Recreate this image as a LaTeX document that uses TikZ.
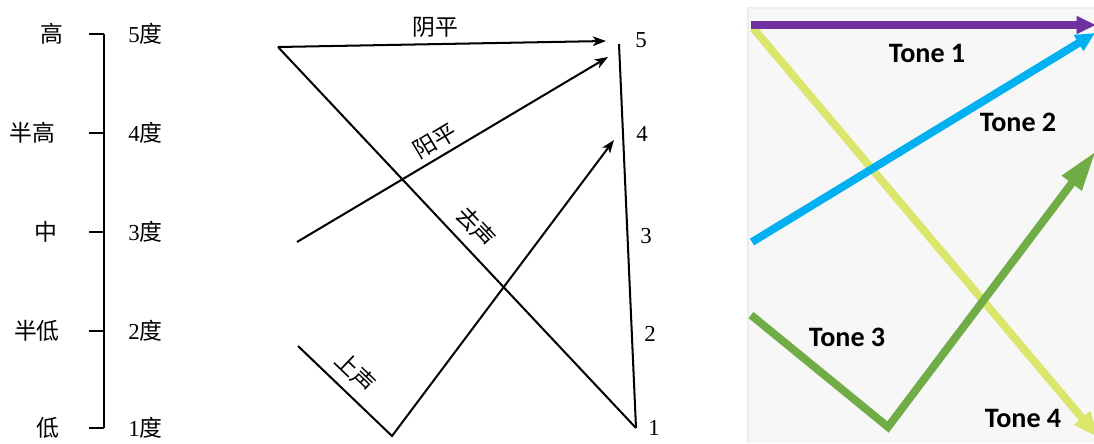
\documentclass[tikz,border=0pt]{standalone}
\usepackage{fontspec}
\setmainfont{Liberation Serif}
\newfontfamily\cjk{Noto Sans CJK SC}
\newfontfamily\tonefont{Carlito}
\usetikzlibrary{arrows.meta}

\definecolor{viola}{HTML}{7030A0}
\definecolor{azzurro}{HTML}{00B0F0}
\definecolor{verde}{HTML}{70AD47}
\definecolor{giallo}{HTML}{DAE76C}
\definecolor{sfondo}{HTML}{F7F7F7}

\begin{document}
\begin{tikzpicture}[x=0.02cm,y=-0.02cm,
    etichetta/.style={font=\cjk\fontsize{13}{13}\selectfont, inner sep=1pt},
    numero/.style={font=\fontsize{13}{13}\selectfont, inner sep=0pt},
    linea/.style={line width=1.15pt},
    freccia/.style={linea, -{Stealth[length=7.5pt,width=5.5pt,inset=2pt]}},
    tono/.style={line width=4.5pt},
    nome/.style={font=\tonefont\bfseries\fontsize{16}{16}\selectfont, inner sep=0pt}]
    \useasboundingbox (0,0) rectangle (1094,443);

    % Scala dei cinque gradi
    \coordinate (s5) at (104,34);
    \coordinate (s1) at (104,428);
    \draw[linea] (s5) -- (s1);
    \foreach \y/\n/\lab/\xl in {34/5/高/52, 133/4/半高/32, 232/3/中/46, 331/2/半低/37, 428/1/低/48} {
        \coordinate (t\n) at (89,\y);
        \coordinate (v\n) at (104,\y);
        \draw[linea] (t\n) -- (v\n);
        \node[etichetta] (l\n) at (\xl,\y) {\lab};
        \node[numero, anchor=west] (g\n) at (128,\y) {\n{\cjk 度}};
    }

    % Toni del cinese
    \coordinate (a0) at (278,47);
    \coordinate (a1) at (606,41);
    \coordinate (b0) at (297,242);
    \coordinate (b1) at (608,57);
    \coordinate (c0) at (298,346);
    \coordinate (c1) at (392,436);
    \coordinate (c2) at (614,140);
    \coordinate (top) at (619,44);
    \coordinate (bot) at (636,428);
    \draw[freccia] (a0) -- node[pos=0.48, above=2pt, etichetta] {阴平} (a1);
    \draw[freccia] (b0) -- node[pos=0.47, sloped, above=2pt, etichetta] {阳平} (b1);
    \draw[linea] (a0) -- node[pos=0.51, sloped, above=4.5pt, etichetta] {去声} (bot);
    \draw[freccia] (c0) -- node[pos=0.46, sloped, above=4.5pt, etichetta] {上声} (c1) -- (c2);
    \draw[linea] (top) -- (bot);
    \foreach \x/\y/\n in {641/40/5, 642/134/4, 646/236/3, 650/334/2, 654/428/1}
        \node[numero] (m\n) at (\x,\y) {\n};

    % Pannello a colori
    \fill[sfondo] (748,8) rectangle (1094,443);
    \draw[black!7, line width=0.6pt] (748,443) -- (748,8) -- (1094,8);
    \begin{scope}
        \clip (748,8) rectangle (1094,443);
        \coordinate (p0) at (751,25);
        \coordinate (p1) at (1096,25);
        \coordinate (y0) at (753,28);
        \coordinate (y1) at (1099,438);
        \coordinate (z0) at (752,242);
        \coordinate (z1) at (1095,33);
        \coordinate (q0) at (751,315);
        \coordinate (q1) at (888,427);
        \coordinate (q2) at (1096,151);
        \draw[tono, giallo, -{Triangle[length=15pt,width=11pt]}] (y0) -- (y1);
        \draw[tono, azzurro, -{Triangle[length=11pt,width=10pt]}] (z0) -- (z1);
        \draw[tono, verde, -{Triangle[length=23pt,width=13pt]}] (q0) -- (q1) -- (q2);
        \draw[tono, viola, -{Triangle[length=11pt,width=9.5pt]}] (p0) -- (p1);
    \end{scope}
    \node[nome] (tone1) at (927,53) {Tone 1};
    \node[nome] (tone2) at (1018,122) {Tone 2};
    \node[nome] (tone3) at (847,337) {Tone 3};
    \node[nome] (tone4) at (1023,418) {Tone 4};
\end{tikzpicture}
\end{document}
